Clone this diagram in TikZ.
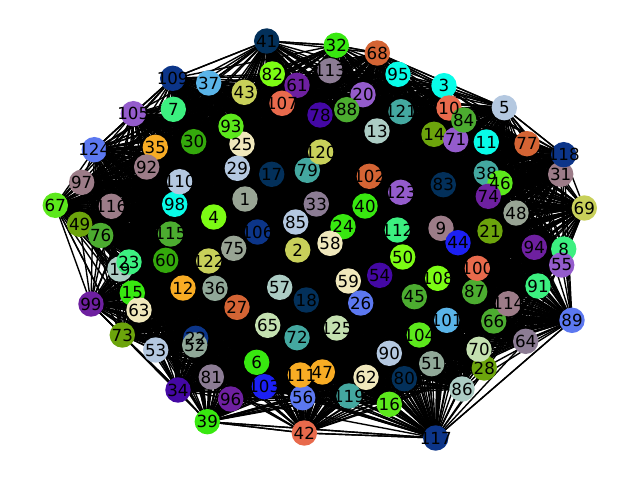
\documentclass[tikz,border=0pt]{standalone}
\usepackage{fontspec}
\setmainfont{DejaVu Sans}
\usetikzlibrary{backgrounds}
\definecolor{navycolor}{RGB}{3,48,90}
\definecolor{bluecolor}{RGB}{12,53,137}
\definecolor{purebluecolor}{RGB}{28,32,244}
\definecolor{skycolor}{RGB}{90,180,232}
\definecolor{steelcolor}{RGB}{180,200,224}
\definecolor{pericolor}{RGB}{92,120,240}
\definecolor{cyancolor}{RGB}{8,252,232}
\definecolor{tealcolor}{RGB}{68,168,160}
\definecolor{paletealcolor}{RGB}{172,204,196}
\definecolor{mintcolor}{RGB}{60,240,128}
\definecolor{limecolor}{RGB}{124,252,20}
\definecolor{brightcolor}{RGB}{92,232,28}
\definecolor{vividcolor}{RGB}{56,232,16}
\definecolor{grasscolor}{RGB}{76,172,48}
\definecolor{forestcolor}{RGB}{52,168,12}
\definecolor{olivecolor}{RGB}{108,164,12}
\definecolor{yellowcolor}{RGB}{200,208,90}
\definecolor{creamcolor}{RGB}{240,232,188}
\definecolor{palegreencolor}{RGB}{196,224,176}
\definecolor{sagecolor}{RGB}{144,168,152}
\definecolor{greycolor}{RGB}{152,164,148}
\definecolor{ambercolor}{RGB}{248,172,36}
\definecolor{rustcolor}{RGB}{212,100,52}
\definecolor{coralcolor}{RGB}{232,106,76}
\definecolor{rosecolor}{RGB}{156,124,136}
\definecolor{mauvecolor}{RGB}{140,124,148}
\definecolor{violetcolor}{RGB}{148,92,204}
\definecolor{purplecolor}{RGB}{110,32,160}
\definecolor{indigocolor}{RGB}{68,8,164}
\tikzset{
  %% vertex : the coloured disc of a graph node
  vertex/.style={
    circle,
    minimum size=18.3bp,
    inner sep=0pt
  },
  %% tag : the number on top of a disc
  tag/.style={
    inner sep=0pt,
    text=black,
    font=\fontsize{12bp}{14bp}\selectfont
  },
  %% link : an edge of the graph
  link/.style={black, line width=1bp}
}

\begin{document}
\begin{tikzpicture}
  [x=0.72bp,
  y=-0.72bp]

  \useasboundingbox (0,0) rectangle (640,480);

  %% Discs, in number order so that later ones lie on top
  \foreach \idx/\xpos/\ypos/\col in {
    1/245/199/grey, 2/297.7/250/yellow, 3/444/85.7/cyan, 4/213.7/217/lime,
    5/504.3/107.7/steel, 6/256.7/362.3/vivid, 7/173.3/109.3/mint, 8/563.7/249/mint,
    9/441/228.3/rose, 10/449/108/coral, 11/486.3/142/cyan, 12/183/288/amber,
    13/377/131/paleteal, 14/434/134.3/olive, 15/132.3/293/vivid, 16/389.3/404.3/bright,
    17/271.7/174.3/navy, 18/306.3/300/navy, 19/120/269/paleteal, 20/363/94.7/violet,
    21/490/231/olive, 22/195.7/338.3/blue, 23/129/262/mint, 24/343/226.7/vivid,
    25/242/144/cream, 26/360.7/303/peri, 27/237/307.3/rust, 28/484.3/368/olive,
    29/237.3/168.3/steel, 30/193.7/141.7/forest, 31/560.7/174.3/rose, 32/336.3/45.3/vivid,
    33/316.3/204/mauve, 34/178/390/indigo, 35/155.3/147.3/amber, 36/215/288.3/sage,
    37/208.7/83/sky, 38/486.3/173/teal, 39/207.3/421.7/vivid, 40/365/206/vivid,
    41/266.7/41/navy, 42/304.3/433/coral, 43/244.3/92.3/yellow, 44/458/242.7/pureblue,
    45/414.3/296.7/grass, 46/500/183/bright, 47/322.3/372/amber, 48/516/213/grey,
    49/79.7/224.3/olive, 50/402.7/257/lime, 51/431.7/363.7/sage, 52/194.7/345/sage,
    53/155.7/350/steel, 54/379.7/275.3/indigo, 55/561.7/265/violet, 56/302.7/397.7/peri,
    57/279.7/287.3/paleteal, 58/330/243.3/cream, 59/348.3/281/cream, 60/165.7/260.3/forest,
    61/297/85.3/purple, 62/366/377.3/cream, 63/139/310/cream, 64/525.7/341.3/mauve,
    65/267.7/325.3/palegreen, 66/493.7/321/grass, 67/55.3/205.3/bright, 68/377.3/53/rust,
    69/584.3/208/yellow, 70/479/349.3/palegreen, 71/455.7/139.7/violet, 72/297/337.7/teal,
    73/122.3/335/olive, 74/488.3/196.3/purple, 75/233.7/248.3/grey, 76/100.7/235.5/grass,
    77/527/143.7/rust, 78/320/115/indigo, 79/307.3/170.3/teal, 80/404.3/378.7/navy,
    81/211.3/377/mauve, 82/272.3/74/lime, 83/443.3/184.7/navy, 84/463.7/120/grass,
    85/295.7/222/steel, 86/462/389/paleteal, 87/474.7/291.7/grass, 88/346.7/109.7/grass,
    89/572/320.3/peri, 90/389.3/353.3/steel, 91/538/286/mint, 92/146.7/167/rose,
    93/231/126.3/bright, 94/534.3/247.3/purple, 95/398/74.3/cyan, 96/230.7/399/purple,
    97/81.7/182.3/rose, 98/174.7/204.3/cyan, 99/91/304/purple, 100/477.3/268.3/coral,
    101/446.7/320.3/sky, 102/369.3/176.3/rust, 103/264.3/386.7/pureblue, 104/419.3/335/bright,
    105/133.3/113.7/violet, 106/257.5/232/blue, 107/282/103.3/coral, 108/437.7/278.3/lime,
    109/172.7/78.3/blue, 110/179.7/181.7/steel, 111/300.3/375/amber, 112/397.3/230/mint,
    113/330/70.7/mauve, 114/508.3/303.7/rose, 115/170.5/234/grass, 116/111.3/206.3/rose,
    117/435.7/438/blue, 118/563.7/154.7/blue, 119/349/396/teal, 120/320.7/152/yellow,
    121/401/111.7/teal, 122/208.7/261/yellow, 123/400.7/192.3/violet, 124/94.3/149.7/peri,
    125/336.7/328/palegreen} {
    \node (n\idx) [vertex, fill=\col color] at (\xpos,\ypos) {};
  }

  %% Numbers over all the discs
  \foreach \idx in {1,...,125} {
    \node (t\idx) [tag] at (n\idx) {\idx};
  }

  %% Edges, behind the discs
  \begin{scope}[on background layer]
    \pgfmathsetseed{4211}
    \foreach \a in {1,...,124} {
      \pgfmathtruncatemacro{\first}{\a+1}
      \foreach \b in {\first,...,125} {
        \pgfmathrandominteger{\coin}{1}{100}
        \ifnum\coin<61
          \ifnum\a=69 \ifnum\b=89 \else
            \draw [link] (n\a.center) -- (n\b.center);
          \fi \else
            \draw [link] (n\a.center) -- (n\b.center);
          \fi
        \fi
      }
    }
    %% Edges along the outside
    \foreach \a/\b in {41/109, 41/37, 109/37, 41/32, 32/68, 68/95, 68/3, 68/5, 3/5, 95/5,
      5/77, 5/118, 77/118, 118/69, 31/69, 67/97, 67/124, 67/99, 67/73, 49/99, 124/105,
      105/109, 99/73, 99/34, 34/39, 39/42, 39/117, 42/117, 117/89, 117/64, 117/28,
      89/55, 89/8, 69/8, 69/55} {
      \draw [link] (n\a.center) -- (n\b.center);
    }
  \end{scope}
\end{tikzpicture}
\end{document}
